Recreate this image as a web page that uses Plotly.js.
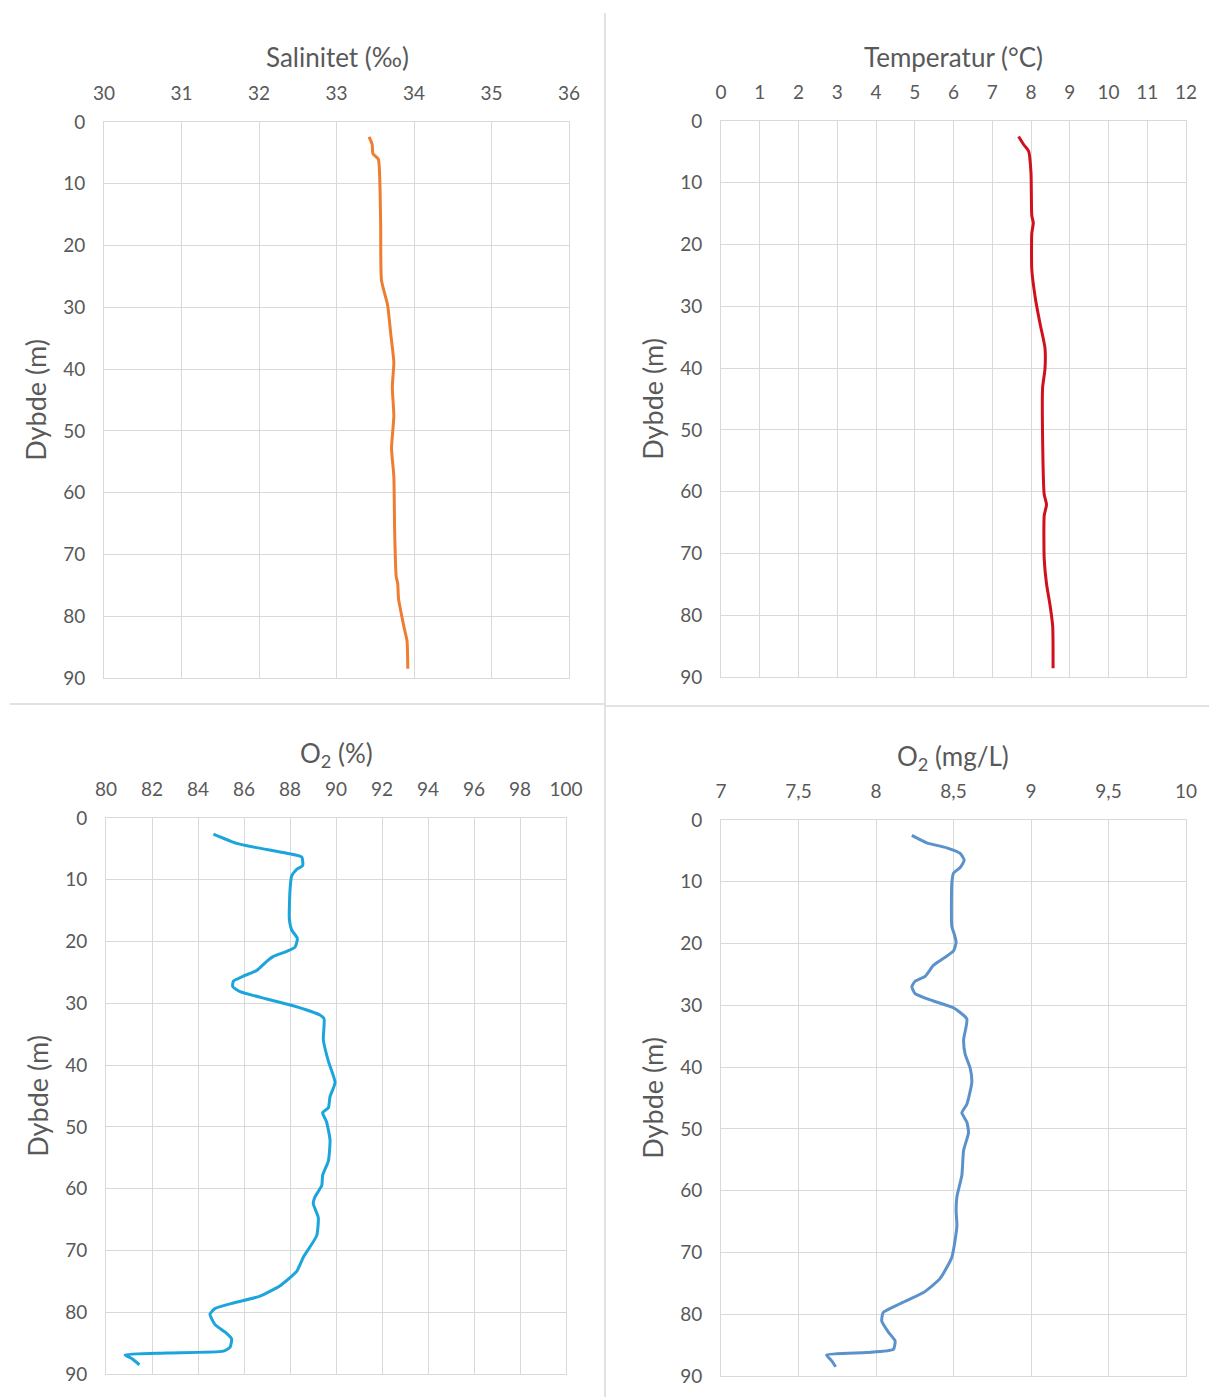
<!DOCTYPE html>
<html>
<head>
<meta charset="utf-8">
<script src="https://cdn.plot.ly/plotly-3.0.1.min.js"></script>
<style>html,body{margin:0;padding:0;background:#fff;}#chart{width:1209px;height:1397px;}</style>
</head>
<body>
<div id="chart"></div>
<script>
// ---- Data ----
const salDepth = [2.4, 3.6, 5.1, 6.0, 10, 16.9, 25.6, 29.7, 34.3, 38.9, 42.9, 47.6, 52.8, 57.4, 66.1, 73.6, 74.7, 77.1, 81.7, 84, 88.5];
const salValues = [33.42, 33.46, 33.47, 33.54, 33.56, 33.57, 33.58, 33.66, 33.70, 33.74, 33.72, 33.74, 33.71, 33.74, 33.75, 33.77, 33.79, 33.80, 33.87, 33.91, 33.92];

const tempDepth = [2.5, 3.8, 4.9, 8.4, 15.3, 16.5, 18.2, 24, 28.6, 32.7, 36.7, 40.2, 43.1, 51.7, 60.4, 62.1, 63.9, 70.8, 74.9, 78.3, 81.8, 88.6];
const tempValues = [7.68, 7.81, 7.94, 8.00, 8.02, 8.06, 8.02, 8.02, 8.11, 8.23, 8.36, 8.36, 8.30, 8.30, 8.34, 8.40, 8.34, 8.34, 8.40, 8.49, 8.56, 8.57];

const o2pDepth = [2.6, 4.1, 4.8, 5.7, 6.3, 7.7, 8.3, 9.4, 11.7, 16.3, 18.1, 19.5, 20.9, 21.6, 22.4, 23.2, 24.7, 25.6, 26.4, 27.3, 28.1, 29.3, 30.4, 31.9, 32.5, 35.9, 39.4, 42.8, 45.1, 46.9, 47.7, 49.2, 52.1, 55.5, 57.8, 59.5, 61.3, 62.4, 64.7, 67.6, 71.1, 73.4, 75.7, 77.4, 78.5, 79.4, 80.3, 82.0, 83.2, 84.3, 85.7, 86.3, 86.6, 86.9, 87.5, 88.5];
const o2pValues = [84.67, 85.68, 86.55, 87.86, 88.51, 88.55, 88.29, 88.07, 88.0, 87.97, 88.07, 88.32, 88.22, 87.86, 87.28, 86.99, 86.55, 85.97, 85.54, 85.51, 85.83, 86.99, 88.14, 89.30, 89.48, 89.45, 89.67, 89.96, 89.74, 89.67, 89.42, 89.59, 89.74, 89.67, 89.42, 89.38, 89.09, 89.01, 89.23, 89.16, 88.58, 88.29, 87.57, 86.70, 85.54, 84.74, 84.52, 84.74, 85.17, 85.46, 85.39, 85.10, 82.64, 80.83, 81.12, 81.45];

const o2mDepth = [2.5, 3.7, 4.5, 5.4, 6.5, 7.7, 8.6, 10.3, 17.2, 18.4, 19.8, 21.2, 22.4, 23.5, 25.3, 26.1, 27.0, 28.1, 29.3, 30.4, 32.2, 35.6, 37.9, 40.2, 42.5, 46.0, 47.4, 48.9, 50.6, 53.5, 57.5, 61.0, 63.3, 65.6, 67.9, 70.8, 74.2, 76.5, 78.3, 79.7, 81.1, 82.9, 84.3, 85.7, 86.2, 86.6, 87.5, 88.5];
const o2mValues = [8.231, 8.328, 8.457, 8.543, 8.569, 8.543, 8.50, 8.489, 8.489, 8.504, 8.517, 8.50, 8.435, 8.371, 8.317, 8.252, 8.231, 8.252, 8.371, 8.50, 8.586, 8.565, 8.575, 8.608, 8.618, 8.586, 8.554, 8.586, 8.597, 8.565, 8.554, 8.522, 8.517, 8.522, 8.511, 8.489, 8.414, 8.306, 8.155, 8.047, 8.037, 8.080, 8.123, 8.112, 7.940, 7.681, 7.713, 7.740];

const panelTitles = ["Salinitet (‰)", "Temperatur (°C)", "O<sub>2</sub> (%)", "O<sub>2</sub> (mg/L)"];
const depthTitle = "Dybde (m)";
const depthTicks = [0, 10, 20, 30, 40, 50, 60, 70, 80, 90];
const o2mTickVals = [7, 7.5, 8, 8.5, 9, 9.5, 10];
const o2mTickText = ["7", "7,5", "8", "8,5", "9", "9,5", "10"];

// ---- Layout helpers ----
const W = 1209, H = 1397;
const px = v => v / W;
const py = v => 1 - v / H;
const FONT = "Lato, 'Open Sans', sans-serif";
const GRID = "#d9d9d9";
const TXT = "#595959";

function xAxis(range, dtick, domain, extra) {
  return Object.assign({
    side: "top", range: range, dtick: dtick, domain: domain,
    showgrid: true, gridcolor: GRID, gridwidth: 1,
    showline: true, linecolor: GRID, linewidth: 1, mirror: true,
    zeroline: false, ticks: "outside", ticklen: 13, tickcolor: "rgba(0,0,0,0)",
    tickfont: {family: FONT, size: 19, color: TXT}, fixedrange: true
  }, extra || {});
}
function yAxis(domain) {
  return {
    range: [90, 0], tickvals: depthTicks, domain: domain,
    showgrid: true, gridcolor: GRID, gridwidth: 1,
    showline: true, linecolor: GRID, linewidth: 1, mirror: true,
    zeroline: false, ticks: "outside", ticklen: 14, tickcolor: "rgba(0,0,0,0)",
    tickfont: {family: FONT, size: 19, color: TXT},
    title: {text: depthTitle, font: {family: FONT, size: 27, color: TXT}, standoff: 8},
    fixedrange: true
  };
}

const traces = [
  {x: salValues, y: salDepth, xaxis: "x", yaxis: "y", mode: "lines", line: {color: "#ED7D31", width: 3, shape: "spline", smoothing: 0.5}},
  {x: tempValues, y: tempDepth, xaxis: "x2", yaxis: "y2", mode: "lines", line: {color: "#D0101C", width: 3, shape: "spline", smoothing: 0.5}},
  {x: o2pValues, y: o2pDepth, xaxis: "x3", yaxis: "y3", mode: "lines", line: {color: "#1CA5DC", width: 3, shape: "spline", smoothing: 0.5}},
  {x: o2mValues, y: o2mDepth, xaxis: "x4", yaxis: "y4", mode: "lines", line: {color: "#5B92CC", width: 3, shape: "spline", smoothing: 0.5}}
];

const ann = (text, x, y) => ({text: text, x: px(x), y: py(y), xref: "paper", yref: "paper", showarrow: false, xanchor: "center", yanchor: "middle", font: {family: FONT, size: 26, color: TXT}});

const layout = {
  width: W, height: H,
  margin: {l: 0, r: 0, t: 0, b: 0},
  paper_bgcolor: "#fff", plot_bgcolor: "#fff",
  showlegend: false,
  xaxis: xAxis([30, 36], 1, [px(104), px(569)]),
  yaxis: yAxis([py(678), py(122)]),
  xaxis2: xAxis([0, 12], 1, [px(721), px(1186)]),
  yaxis2: Object.assign(yAxis([py(677), py(121)]), {anchor: "x2"}),
  xaxis3: xAxis([80, 100], 2, [px(106), px(566)]),
  yaxis3: Object.assign(yAxis([py(1374), py(818)]), {anchor: "x3"}),
  xaxis4: xAxis([7, 10], 0.5, [px(721), px(1186)], {tickvals: o2mTickVals, ticktext: o2mTickText}),
  yaxis4: Object.assign(yAxis([py(1376), py(820)]), {anchor: "x4"}),
  annotations: [
    ann(panelTitles[0], 337, 57),
    ann(panelTitles[1], 953, 57),
    ann(panelTitles[2], 336, 755),
    ann(panelTitles[3], 953, 757)
  ],
  shapes: [
    {type: "line", xref: "paper", yref: "paper", x0: px(605), x1: px(605), y0: py(13), y1: 0, line: {color: "#d9d9d9", width: 1.5}},
    {type: "line", xref: "paper", yref: "paper", x0: px(10), x1: px(605), y0: py(704), y1: py(704), line: {color: "#d9d9d9", width: 1.5}},
    {type: "line", xref: "paper", yref: "paper", x0: px(606), x1: 1, y0: py(706), y1: py(706), line: {color: "#d9d9d9", width: 1.5}}
  ]
};
layout.xaxis.anchor = "y";
layout.xaxis2.anchor = "y2";
layout.xaxis3.anchor = "y3";
layout.xaxis4.anchor = "y4";

Plotly.newPlot("chart", traces, layout, {staticPlot: true, displayModeBar: false});
</script>
</body>
</html>
